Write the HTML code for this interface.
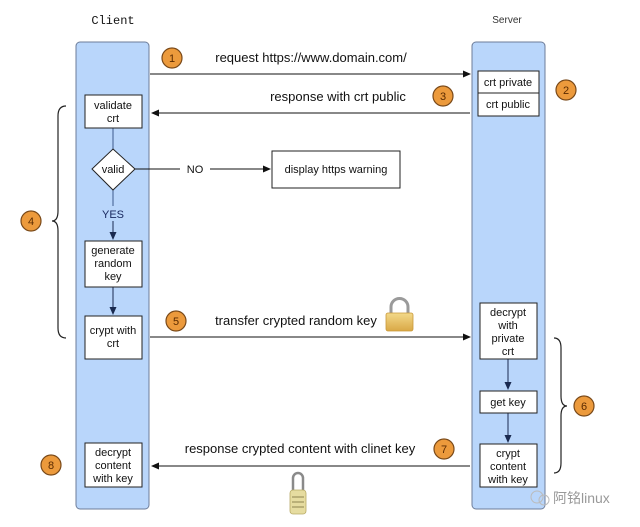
<!DOCTYPE html>
<html><head><meta charset="utf-8"><style>
html,body{margin:0;padding:0;background:#fff;}
svg{display:block;}
text{font-family:"Liberation Sans",sans-serif;fill:#111;}
</style></head><body>
<svg width="640" height="527" viewBox="0 0 640 527" xmlns="http://www.w3.org/2000/svg" font-size="11">
<defs>
<marker id="ah" markerWidth="8" markerHeight="8" refX="7" refY="4" orient="auto" markerUnits="userSpaceOnUse">
<path d="M0,0.5 L8,4 L0,7.5 Z" fill="#111"/></marker>
<marker id="ab" markerWidth="8" markerHeight="8" refX="7" refY="4" orient="auto" markerUnits="userSpaceOnUse">
<path d="M0,0.5 L8,4 L0,7.5 Z" fill="#1a2a50"/></marker>
<linearGradient id="gold" x1="0" y1="0" x2="0" y2="1">
<stop offset="0" stop-color="#f3d98a"/><stop offset="1" stop-color="#d9a846"/></linearGradient>
</defs>
<rect width="640" height="527" fill="#fff"/>
<text x="113" y="24" text-anchor="middle" style="font-family:'Liberation Mono',monospace;font-size:12px">Client</text>
<text x="507" y="23" text-anchor="middle" style="font-size:10px;fill:#333">Server</text>
<rect x="76" y="42" width="73" height="467" rx="4" fill="#b9d6fb" stroke="#6d7c99" stroke-width="1"/>
<rect x="472" y="42" width="73" height="467" rx="4" fill="#b9d6fb" stroke="#6d7c99" stroke-width="1"/>
<line x1="113" y1="128" x2="113" y2="149" stroke="#3d5a8c" stroke-width="1"/>
<line x1="113" y1="190" x2="113" y2="206" stroke="#3d5a8c" stroke-width="1"/>
<line x1="113" y1="221" x2="113" y2="239" stroke="#1a2a50" stroke-width="1" marker-end="url(#ab)"/>
<line x1="113" y1="287" x2="113" y2="314" stroke="#1a2a50" stroke-width="1" marker-end="url(#ab)"/>
<g font-size="11">
<rect x="85" y="95" width="57" height="33" fill="#fff" stroke="#222"/>
<text x="113" y="109" text-anchor="middle">validate</text>
<text x="113" y="122" text-anchor="middle">crt</text>
<polygon points="113,149 135,169 113,190 92,169" fill="#fff" stroke="#222"/>
<text x="113" y="173" text-anchor="middle">valid</text>
<text x="113" y="218" text-anchor="middle" style="fill:#1a2a60">YES</text>
<rect x="85" y="241" width="57" height="46" fill="#fff" stroke="#222"/>
<text x="113" y="254" text-anchor="middle">generate</text>
<text x="113" y="267" text-anchor="middle">random</text>
<text x="113" y="280" text-anchor="middle">key</text>
<rect x="85" y="316" width="57" height="43" fill="#fff" stroke="#222"/>
<text x="113" y="334" text-anchor="middle">crypt with</text>
<text x="113" y="347" text-anchor="middle">crt</text>
<rect x="85" y="443" width="57" height="44" fill="#fff" stroke="#222"/>
<text x="113" y="456" text-anchor="middle">decrypt</text>
<text x="113" y="469" text-anchor="middle">content</text>
<text x="113" y="482" text-anchor="middle">with key</text>
<line x1="135" y1="169" x2="180" y2="169" stroke="#111"/>
<text x="195" y="173" text-anchor="middle">NO</text>
<line x1="210" y1="169" x2="270" y2="169" stroke="#111" marker-end="url(#ah)"/>
<rect x="272" y="151" width="128" height="37" fill="#fff" stroke="#222"/>
<text x="336" y="173" text-anchor="middle">display https warning</text>
<rect x="478" y="71" width="61" height="22" fill="#fff" stroke="#222"/>
<text x="508" y="86" text-anchor="middle">crt private</text>
<rect x="478" y="93" width="61" height="23" fill="#fff" stroke="#222"/>
<text x="508" y="108" text-anchor="middle">crt public</text>
<line x1="508" y1="359" x2="508" y2="389" stroke="#1a2a50" marker-end="url(#ab)"/>
<line x1="508" y1="413" x2="508" y2="442" stroke="#1a2a50" marker-end="url(#ab)"/>
<rect x="480" y="303" width="57" height="56" fill="#fff" stroke="#222"/>
<text x="508" y="316" text-anchor="middle">decrypt</text>
<text x="508" y="329" text-anchor="middle">with</text>
<text x="508" y="342" text-anchor="middle">private</text>
<text x="508" y="355" text-anchor="middle">crt</text>
<rect x="480" y="391" width="57" height="22" fill="#fff" stroke="#222"/>
<text x="508" y="406" text-anchor="middle">get key</text>
<rect x="480" y="444" width="57" height="43" fill="#fff" stroke="#222"/>
<text x="508" y="457" text-anchor="middle">crypt</text>
<text x="508" y="470" text-anchor="middle">content</text>
<text x="508" y="483" text-anchor="middle">with key</text>
</g>
<g font-size="13">
<line x1="150" y1="74" x2="470" y2="74" stroke="#111" marker-end="url(#ah)"/>
<text x="311" y="62" text-anchor="middle">request https://www.domain.com/</text>
<line x1="470" y1="113" x2="152" y2="113" stroke="#111" marker-end="url(#ah)"/>
<text x="338" y="101" text-anchor="middle">response with crt public</text>
<line x1="150" y1="337" x2="470" y2="337" stroke="#111" marker-end="url(#ah)"/>
<text x="296" y="325" text-anchor="middle">transfer crypted random key</text>
<line x1="470" y1="466" x2="152" y2="466" stroke="#111" marker-end="url(#ah)"/>
<text x="300" y="453" text-anchor="middle">response crypted content with clinet key</text>
</g>
<path d="M391,314 V307 a8.5,8.5 0 0 1 17,0 V314" fill="none" stroke="#9a9a9a" stroke-width="3"/>
<rect x="386" y="313" width="27" height="18" rx="2" fill="url(#gold)" stroke="#c9983a" stroke-width="0.8"/>
<path d="M293,492 V478 a5,5 0 0 1 10,0 V492" fill="none" stroke="#8a8a8a" stroke-width="2.5"/>
<rect x="290" y="490" width="16" height="24" rx="3" fill="#e6dca0" stroke="#b8aa66" stroke-width="0.8"/>
<line x1="292" y1="497" x2="304" y2="497" stroke="#8d8450"/><line x1="292" y1="502" x2="304" y2="502" stroke="#8d8450"/><line x1="292" y1="507" x2="304" y2="507" stroke="#8d8450"/>
<path d="M66,106 Q58,106 58,116 V211 Q58,221 52,221 Q58,221 58,231 V328 Q58,338 66,338" fill="none" stroke="#222" stroke-width="1.2"/>
<path d="M554,338 Q561,338 561,348 V396 Q561,406 567,406 Q561,406 561,416 V463 Q561,473 554,473" fill="none" stroke="#222" stroke-width="1.2"/>
<g font-size="11">
<circle cx="172" cy="58" r="10" fill="#ec9a3c" stroke="#7a4a1a" stroke-width="1.2"/><text x="172" y="62" text-anchor="middle" style="fill:#5a2a00">1</text>
<circle cx="566" cy="90" r="10" fill="#ec9a3c" stroke="#7a4a1a" stroke-width="1.2"/><text x="566" y="94" text-anchor="middle" style="fill:#5a2a00">2</text>
<circle cx="443" cy="96" r="10" fill="#ec9a3c" stroke="#7a4a1a" stroke-width="1.2"/><text x="443" y="100" text-anchor="middle" style="fill:#5a2a00">3</text>
<circle cx="31" cy="221" r="10" fill="#ec9a3c" stroke="#7a4a1a" stroke-width="1.2"/><text x="31" y="225" text-anchor="middle" style="fill:#5a2a00">4</text>
<circle cx="176" cy="321" r="10" fill="#ec9a3c" stroke="#7a4a1a" stroke-width="1.2"/><text x="176" y="325" text-anchor="middle" style="fill:#5a2a00">5</text>
<circle cx="584" cy="406" r="10" fill="#ec9a3c" stroke="#7a4a1a" stroke-width="1.2"/><text x="584" y="410" text-anchor="middle" style="fill:#5a2a00">6</text>
<circle cx="444" cy="449" r="10" fill="#ec9a3c" stroke="#7a4a1a" stroke-width="1.2"/><text x="444" y="453" text-anchor="middle" style="fill:#5a2a00">7</text>
<circle cx="51" cy="465" r="10" fill="#ec9a3c" stroke="#7a4a1a" stroke-width="1.2"/><text x="51" y="469" text-anchor="middle" style="fill:#5a2a00">8</text>
</g>
<circle cx="537" cy="497" r="6" fill="none" stroke="#bbb"/>
<circle cx="544" cy="500" r="5" fill="none" stroke="#bbb"/>
<text x="553" y="503" style="font-family:'Liberation Sans','Noto Sans CJK SC',sans-serif;font-size:14px;fill:#999">阿铭linux</text>
</svg>
</body></html>
